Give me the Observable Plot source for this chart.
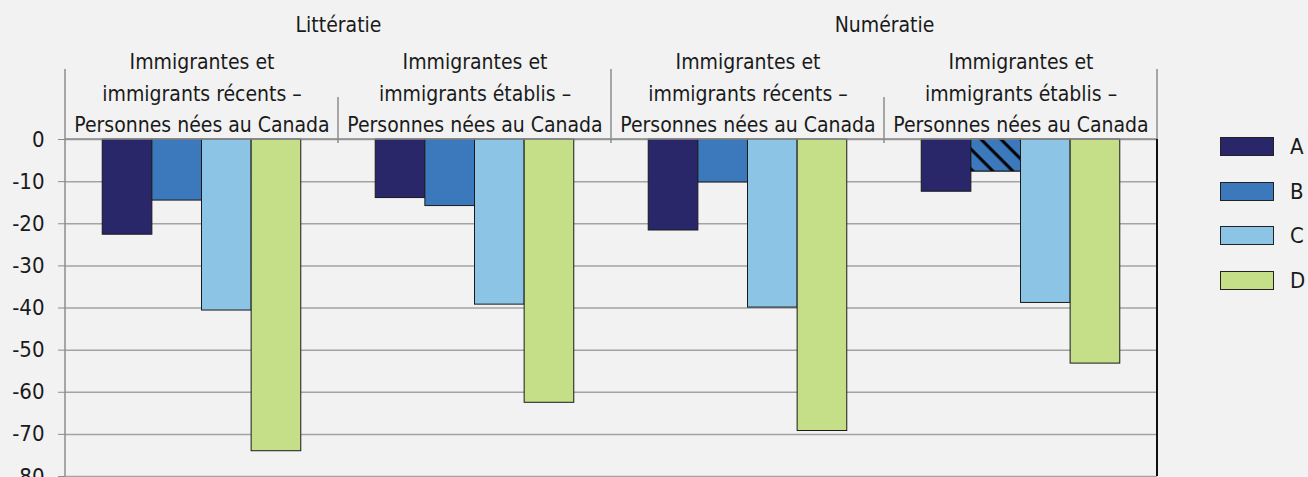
<!DOCTYPE html>
<html><head><meta charset="utf-8">
<script src="https://cdn.jsdelivr.net/npm/d3@7"></script>
<script src="https://cdn.jsdelivr.net/npm/@observablehq/plot@0.6"></script>
<style>
html,body{margin:0;padding:0;background:#f2f2f2;overflow:hidden;width:1308px;height:477px;}
#wrap{position:relative;width:1308px;height:477px;overflow:hidden;}
#chart svg{display:block;font-stretch:condensed;}
#legend{position:absolute;left:0;top:0;font-family:"Liberation Sans Narrow","DejaVu Sans Condensed","Arial Narrow",sans-serif;font-stretch:condensed;font-size:22px;color:#1a1a1a;}
#legend .sw{position:absolute;width:52px;height:17px;border:1.5px solid #222;}
#legend .lb{position:absolute;line-height:20px;}
</style></head><body>
<div id="wrap"><div id="chart"></div><div id="legend"></div></div>
<script>
const series = ["A", "B", "C", "D"];
const colors = ["#29266a", "#3c78bc", "#8cc4e6", "#c5de88"];
const groups = ["L-recents", "L-etablis", "N-recents", "N-etablis"];
const groupLabels = [
  "Immigrantes et\nimmigrants récents –\nPersonnes nées au Canada",
  "Immigrantes et\nimmigrants établis –\nPersonnes nées au Canada",
  "Immigrantes et\nimmigrants récents –\nPersonnes nées au Canada",
  "Immigrantes et\nimmigrants établis –\nPersonnes nées au Canada"
];
const domains = ["Littératie", "Numératie"];
const domainAnchorGroups = ["L-recents", "N-recents"];
const valuesA = [-22.6, -13.9, -21.6, -12.4];
const valuesB = [-14.5, -15.8, -10.2, -7.6];
const valuesC = [-40.6, -39.2, -39.9, -38.8];
const valuesD = [-74.0, -62.5, -69.2, -53.2];
const hatchedCells = [["N-etablis", "B"]];
const yTicks = [0, -10, -20, -30, -40, -50, -60, -70, -80];

const FONT = '"Liberation Sans Narrow","DejaVu Sans Condensed","Arial Narrow",sans-serif';
const allValues = [valuesA, valuesB, valuesC, valuesD];
const rows = groups.flatMap((g, gi) => series.map((s, si) => ({group: g, series: s, value: allValues[si][gi]})));
const isHatched = r => hatchedCells.some(([g, s]) => g === r.group && s === r.series);

const chart = Plot.plot({
  width: 1308, height: 500,
  marginLeft: 65, marginRight: 151, marginTop: 139, marginBottom: 24,
  style: {background: "transparent", fontFamily: FONT, fontSize: "22px", color: "#1a1a1a", overflow: "visible"},
  fx: {domain: groups, padding: 0, axis: null, round: false},
  x: {domain: series, paddingInner: 0, paddingOuter: 0.75, axis: null, round: false},
  y: {domain: [-80, 0], ticks: yTicks, tickSize: 7, tickPadding: 14, label: null, tickFormat: d => String(d)},
  color: {domain: series, range: colors},
  marks: [
    Plot.ruleY(yTicks, {stroke: "#a3a3a3", strokeWidth: 1.5}),
    Plot.barY(rows, {fx: "group", x: "series", y: "value", fill: "series", stroke: "#1a1a1a", strokeWidth: 1}),
    Plot.barY(rows.filter(isHatched), {fx: "group", x: "series", y: "value", fill: "url(#hatch)", stroke: "#1a1a1a", strokeWidth: 1}),
    Plot.text(groups, {fx: d => d, text: (d, i) => groupLabels[i], frameAnchor: "top", lineAnchor: "middle", dy: -49, fontSize: 21, lineHeight: 1.5, fill: "#1a1a1a"}),
    Plot.text(domains, {fx: (d, i) => domainAnchorGroups[i], text: d => d, frameAnchor: "top-right", textAnchor: "middle", lineAnchor: "middle", dy: -114, fontSize: 21, fill: "#1a1a1a"})
  ]
});
document.getElementById("chart").appendChild(chart);

const svg = d3.select(chart);
// hatch pattern
const pat = svg.insert("defs", ":first-child").append("pattern")
  .attr("id", "hatch").attr("patternUnits", "userSpaceOnUse")
  .attr("width", 14.1).attr("height", 14.1).attr("patternTransform", "rotate(-45)");
pat.append("rect").attr("width", 14.1).attr("height", 14.1).attr("fill", colors[1]);
pat.append("line").attr("x1", 2).attr("y1", -1).attr("x2", 2).attr("y2", 15.1).attr("stroke", "#000").attr("stroke-width", 3);

// grey axis ticks
svg.selectAll('g[aria-label="y-axis tick"] path, g[aria-label="y-axis"] .tick line').attr("stroke", "#8c8c8c");

// separators from the library's scales
const fxs = chart.scale("fx");
const fxFn = fxs.apply ? (d => fxs.apply(d)) : d3.scaleBand(fxs.domain, fxs.range);
const bw = fxs.bandwidth;
const ys = chart.scale("y");
const yFn = ys.apply ? (v => ys.apply(v)) : d3.scaleLinear(ys.domain, ys.range);
const y0 = yFn(0), yB = yFn(-80);
const bounds = groups.map(g => fxFn(g)).concat([fxFn(groups[groups.length - 1]) + bw]);
const sep = svg.append("g").attr("stroke", "#8c8c8c").attr("stroke-width", 1.5);
const tallTop = 69, shortTop = 97;
bounds.forEach((bx, i) => {
  if (i === 0) sep.append("line").attr("x1", bx).attr("x2", bx).attr("y1", tallTop).attr("y2", yB);
  else if (i === bounds.length - 1) {
    sep.append("line").attr("x1", bx).attr("x2", bx).attr("y1", tallTop).attr("y2", y0);
    svg.append("line").attr("x1", bx).attr("x2", bx).attr("y1", y0).attr("y2", yB).attr("stroke", "#111").attr("stroke-width", 2);
  } else {
    sep.append("line").attr("x1", bx).attr("x2", bx).attr("y1", i % 2 === 0 ? tallTop : shortTop).attr("y2", y0 + 4);
  }
});
sep.append("line").attr("x1", bounds[0]).attr("x2", bounds[bounds.length - 1]).attr("y1", y0).attr("y2", y0);

// legend
const lg = d3.select("#legend");
series.forEach((s, i) => {
  const top = 137 + i * 44.5;
  lg.append("div").attr("class", "sw").style("left", "1220px").style("top", top + "px").style("background", colors[i]);
  lg.append("div").attr("class", "lb").style("left", "1290px").style("top", top + "px").text(s);
});
</script>
</body></html>
